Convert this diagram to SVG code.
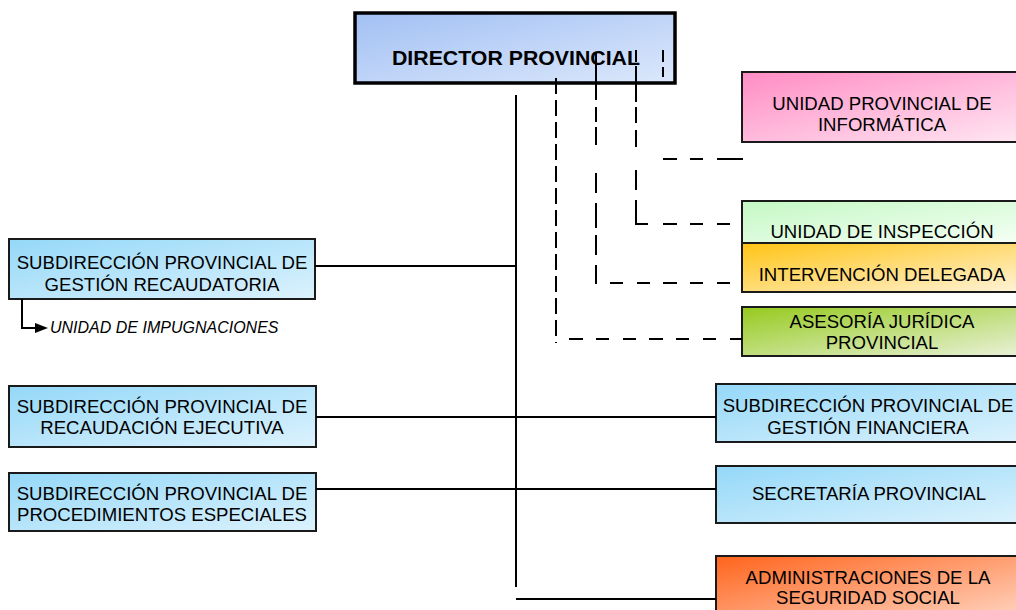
<svg xmlns="http://www.w3.org/2000/svg" width="1016" height="610" viewBox="0 0 1016 610">
<defs>
<linearGradient id="gDir" x1="0" y1="0" x2="1" y2="1"><stop offset="0" stop-color="#a2c0f4"/><stop offset="1" stop-color="#dce8fb"/></linearGradient>
<linearGradient id="gBlue" x1="0" y1="0" x2="1" y2="1"><stop offset="0" stop-color="#94d8f8"/><stop offset="1" stop-color="#dcf2fd"/></linearGradient>
<linearGradient id="gPink" x1="0" y1="0" x2="1" y2="1"><stop offset="0" stop-color="#ff8cc4"/><stop offset="1" stop-color="#ffe8f3"/></linearGradient>
<linearGradient id="gLGreen" x1="0" y1="0" x2="1" y2="1"><stop offset="0" stop-color="#c4f8c4"/><stop offset="1" stop-color="#f6fff6"/></linearGradient>
<linearGradient id="gOrange" x1="0" y1="0" x2="1" y2="1"><stop offset="0" stop-color="#ffc414"/><stop offset="1" stop-color="#fff4dc"/></linearGradient>
<linearGradient id="gOlive" x1="0" y1="0" x2="1" y2="1"><stop offset="0" stop-color="#96ca1e"/><stop offset="1" stop-color="#eaf2dc"/></linearGradient>
<linearGradient id="gRed" x1="0" y1="0" x2="1" y2="1"><stop offset="0" stop-color="#ff641c"/><stop offset="1" stop-color="#ffdccc"/></linearGradient>
</defs>
<style>
.box{stroke:#1a1a1a;stroke-width:2}
.dir{stroke:#000;stroke-width:3.5}
.t{font-family:"Liberation Sans",Arial,sans-serif;font-size:18.6px;fill:#000;text-anchor:middle}
.tb{font-family:"Liberation Sans",Arial,sans-serif;font-size:20px;font-weight:bold;fill:#000;text-anchor:middle}
.ti{font-family:"Liberation Sans",Arial,sans-serif;font-size:16px;font-style:italic;fill:#000}
.solid{stroke:#000;stroke-width:2;fill:none}
.dash{stroke:#000;stroke-width:2;fill:none}
</style>
<g id="director"><rect class="dir" x="355" y="13" width="320" height="70" fill="url(#gDir)"/></g>
<g id="informatica"><rect class="box" x="742" y="72" width="290" height="70" fill="url(#gPink)"/><text class="t" x="882" y="110">UNIDAD PROVINCIAL DE</text><text class="t" x="882" y="131">INFORMÁTICA</text></g>
<g id="inspeccion"><rect class="box" x="742" y="201" width="290" height="42" fill="url(#gLGreen)"/><text class="t" x="882" y="238">UNIDAD DE INSPECCIÓN</text></g>
<g id="intervencion"><rect class="box" x="742" y="243" width="290" height="49" fill="url(#gOrange)"/><text class="t" x="882" y="281">INTERVENCIÓN DELEGADA</text></g>
<g id="asesoria"><rect class="box" x="742" y="307" width="290" height="49" fill="url(#gOlive)"/><text class="t" x="882" y="328">ASESORÍA JURÍDICA</text><text class="t" x="882" y="349">PROVINCIAL</text></g>
<g id="gestion-financiera"><rect class="box" x="716" y="384" width="310" height="58" fill="url(#gBlue)"/><text class="t" x="868" y="412">SUBDIRECCIÓN PROVINCIAL DE</text><text class="t" x="868" y="434">GESTIÓN FINANCIERA</text></g>
<g id="secretaria"><rect class="box" x="716" y="466" width="310" height="57" fill="url(#gBlue)"/><text class="t" x="869" y="500">SECRETARÍA PROVINCIAL</text></g>
<g id="administraciones"><rect class="box" x="716" y="556" width="310" height="70" fill="url(#gRed)"/><text class="t" x="868" y="584">ADMINISTRACIONES DE LA</text><text class="t" x="868" y="604">SEGURIDAD SOCIAL</text></g>
<g id="gestion-recaudatoria"><rect class="box" x="9" y="239" width="306" height="60" fill="url(#gBlue)"/><text class="t" x="162" y="269">SUBDIRECCIÓN PROVINCIAL DE</text><text class="t" x="162" y="291">GESTIÓN RECAUDATORIA</text></g>
<g id="recaudacion-ejecutiva"><rect class="box" x="9" y="386" width="307" height="61" fill="url(#gBlue)"/><text class="t" x="162" y="413">SUBDIRECCIÓN PROVINCIAL DE</text><text class="t" x="162" y="434">RECAUDACIÓN EJECUTIVA</text></g>
<g id="procedimientos"><rect class="box" x="9" y="473" width="307" height="58" fill="url(#gBlue)"/><text class="t" x="162" y="500">SUBDIRECCIÓN PROVINCIAL DE</text><text class="t" x="162" y="521">PROCEDIMIENTOS ESPECIALES</text></g>
<g id="impugnaciones"><text class="ti" x="50" y="333">UNIDAD DE IMPUGNACIONES</text></g>
<g id="connectors">
<path class="solid" d="M516,95 V587"/>
<path class="solid" d="M315,266 H516"/>
<path class="solid" d="M316,417 H716"/>
<path class="solid" d="M316,489 H716"/>
<path class="solid" d="M516,599 H716"/>
<path class="solid" d="M22,299 V328 H37"/>
<path d="M35,323 L48,328 L35,333 Z" fill="#000"/>
<path class="dash" d="M556,78 V343" style="stroke-dasharray:16 6"/>
<path class="dash" d="M569,339 H583 M596,339 H609 M623,339 H636 M649,339 H663 M676,339 H689 M703,339 H716 M730,339 H742"/>
<path class="dash" d="M596,52 V100 M596,107 V122 M596,127 V145 M596,173 V193 M596,203 V228 M596,235 V255 M596,265 V284"/>
<path class="dash" d="M610,283 H623 M637,283 H650 M663,283 H677 M690,283 H703 M717,283 H730"/>
<path class="dash" d="M636,50 V62 M636,66 V102 M636,107 V123 M636,130 V147 M636,170 V190 M636,200 V224 H648 M663,224 H677 M690,224 H703 M717,224 H730"/>
<path class="dash" d="M663,159 H677 M690,159 H703 M717,159 H743"/>
<path class="dash" d="M663,50 V62 M663,67 V77"/>
</g>
<g id="director-label"><text class="tb" x="516" y="65" textLength="248" lengthAdjust="spacingAndGlyphs">DIRECTOR PROVINCIAL</text></g>
</svg>
